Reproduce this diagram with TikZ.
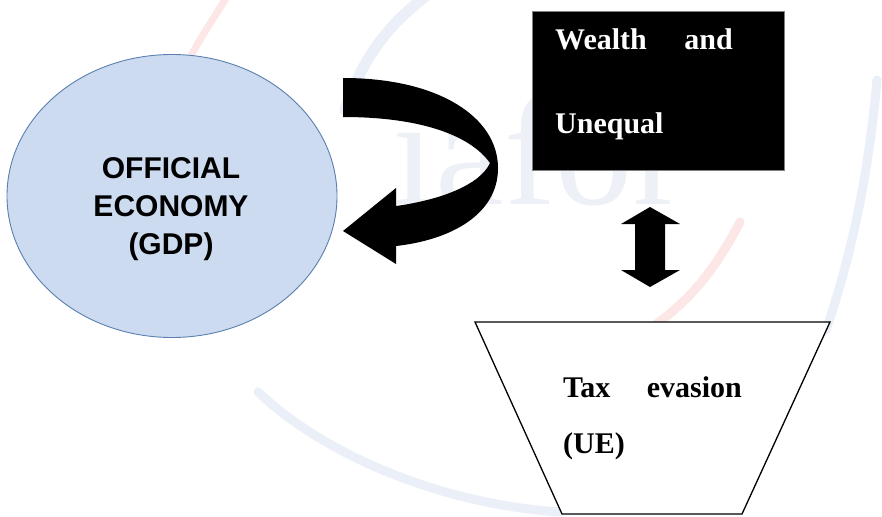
\documentclass[tikz,border=0pt]{standalone}
\usepackage{fontspec}
\usetikzlibrary{shapes.geometric}
\newfontfamily\arialf{Liberation Sans}
\newfontfamily\timesf{Liberation Serif}
\definecolor{ovalfill}{HTML}{CCDBEF}
\definecolor{ovaledge}{HTML}{5A7FB0}
\definecolor{wmblue}{HTML}{EBEFF8}
\definecolor{wmpink}{HTML}{FCE6E6}
\definecolor{wmtext}{HTML}{EDF0F6}
\tikzset{
  px/.style={x=1pt,y=-1pt},
  ovaltext/.style={font=\arialf\bfseries\fontsize{30}{38}\selectfont,align=center,text=black},
  whitelabel/.style={font=\timesf\bfseries\fontsize{30}{36}\selectfont,text=white,inner sep=0pt},
  blacklabel/.style={font=\timesf\bfseries\fontsize{30}{36}\selectfont,text=black,inner sep=0pt},
  swoosh/.style={line width=9pt,line cap=round},
}
\begin{document}
\begin{tikzpicture}[px]
\useasboundingbox (0,0) rectangle (882,516);
\fill[white] (0,0) rectangle (882,516);

% faint logo watermark in the background
\node[font=\timesf\fontsize{155}{155}\selectfont,text=wmtext,anchor=base west,inner sep=0pt] (wm) at (392,204) {iafor};
\draw[swoosh,wmpink,line width=7pt] (226,-2) .. controls (214,18) and (200,38) .. (190,58);
\draw[swoosh,wmblue,line width=11pt] (426,-4) .. controls (395,20) and (365,50) .. (345,110);
\draw[swoosh,wmblue] (877,80) .. controls (868,180) and (850,260) .. (826,330);
\draw[swoosh,wmpink] (740,222) .. controls (715,270) and (690,300) .. (655,325);
\draw[swoosh,wmblue] (258,392) .. controls (330,460) and (450,505) .. (560,512);

% official economy
\node[ellipse,draw=ovaledge,fill=ovalfill,line width=0.9pt,minimum width=330pt,minimum height=283pt,inner sep=0pt] (oval) at (172,196) {};
\node[ovaltext] (ovallabel) at (171,209) {OFFICIAL\\ECONOMY\\(GDP)};

% wealth box
\node[draw=gray,fill=black,line width=0.8pt,minimum width=252pt,minimum height=159pt,inner sep=0pt] (wealth) at (658,90.5) {};
\node[whitelabel,anchor=base west] (w1) at (555,50) {Wealth};
\node[whitelabel,anchor=base east] (w2) at (733,50) {and};
\node[whitelabel,anchor=base west] (w3) at (555,133) {Unequal};

% tax evasion trapezoid
\coordinate (ta) at (475,322);
\coordinate (tb) at (830,322);
\coordinate (tc) at (742,514);
\coordinate (td) at (562,514);
\draw[line width=1.3pt,fill=white,line join=miter] (ta) -- (tb) -- (tc) -- (td) -- cycle;
\node[blacklabel,anchor=base west] (t1) at (563,397) {Tax};
\node[blacklabel,anchor=base east] (t2) at (742,397) {evasion};
\node[blacklabel,anchor=base west] (t3) at (563,453) {(UE)};

% two-headed block arrow
\fill[black] (650,207) -- (680,224) -- (665,224) -- (665,270) -- (680,270) -- (650,287)
  -- (621,270) -- (635,270) -- (635,224) -- (621,224) -- cycle;

% curved block arrow bending back towards the oval
\fill[black] (343,78) .. controls (440,78) and (498,118) .. (498,168)
  .. controls (498,215) and (450,240) .. (396,246)
  -- (396,264) -- (343,231) -- (396,188) -- (396,206)
  .. controls (440,200) and (480,185) .. (490,163)
  .. controls (470,135) and (420,117) .. (343,117) -- cycle;
\end{tikzpicture}
\end{document}
